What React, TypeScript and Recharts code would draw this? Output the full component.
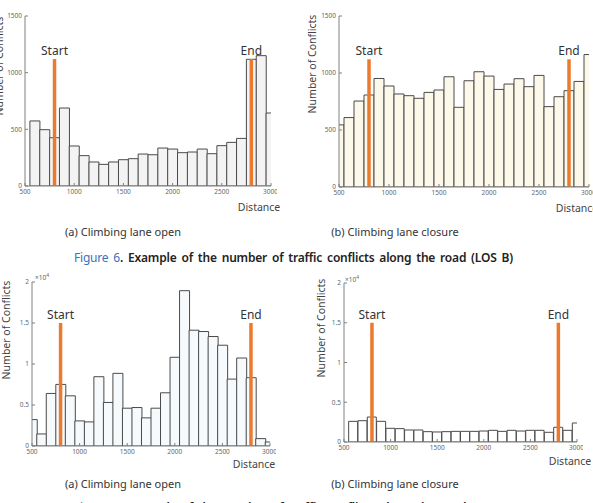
import React from 'react';
import { ComposedChart, Bar, XAxis, YAxis, ReferenceLine } from 'recharts';

// histogram bin centres along the road (m), bin width 100
const bins = [
  500, 600, 700, 800, 900, 1000, 1100, 1200, 1300, 1400, 1500, 1600, 1700,
  1800, 1900, 2000, 2100, 2200, 2300, 2400, 2500, 2600, 2700, 2800, 2900, 3000,
];

// conflicts per bin, LOS B
const openLosB = [
  0, 574, 497, 426, 688, 353, 268, 212, 191, 212, 232, 241, 282,
  276, 335, 326, 294, 300, 326, 285, 356, 385, 420, 1118, 1150, 644,
];
const closedLosB = [
  545, 609, 754, 807, 952, 886, 816, 801, 778, 830, 851, 967, 699,
  932, 1011, 973, 856, 903, 950, 880, 979, 705, 792, 845, 926, 1162,
];

// conflicts per bin, LOS D
const openLosD = [
  3220, 1470, 6410, 7510, 6120, 3060, 2940, 8450, 5310, 8860, 4610, 4690, 3430,
  4610, 6490, 10820, 18940, 14120, 13960, 13350, 12290, 8160, 10730, 8330, 900, 490,
];
const closedLosD = [
  0, 2600, 2680, 3140, 2600, 1720, 1680, 1510, 1510, 1300, 1260, 1300, 1340,
  1340, 1340, 1380, 1470, 1340, 1470, 1380, 1470, 1470, 1220, 1850, 1470, 2390,
];

const distanceTicks = [500, 1000, 1500, 2000, 2500, 3000];
const countTicksB = [0, 500, 1000, 1500];
const countTicksD = [0, 5000, 10000, 15000, 20000];

// climbing lane start / end and the height of the marker bars
const laneStart = 800;
const laneEnd = 2800;
const markerB = 1120;
const markerD = 15000;

const Y_W = 30;
const TOP_M = 14;
const X_H = 20;
const RIGHT_M = 6;
const AXIS = '#808080';
const ORANGE = '#ec7a2e';
const FONT = '"Noto Sans", sans-serif';

type PanelProps = {
  values: number[];
  yTicks: number[];
  yMax: number;
  marker: number;
  fill: string;
  left: number;
  top: number;
  width: number;
  height: number;
  fmt?: (v: number) => string;
};

const noTick = () => <g />;

const Panel = ({ values, yTicks, yMax, marker, fill, left, top, width, height, fmt }: PanelProps) => {
  const data = bins.map((d, i) => ({ d, n: values[i] }));
  const tickStyle = { fontSize: 6.5, fill: '#666', fontFamily: FONT };
  const labelStyle = { fontSize: 12, fill: '#333', fontFamily: FONT };
  return (
    <div style={{ position: 'absolute', left: left - Y_W, top: top - TOP_M }}>
      <ComposedChart
        width={Y_W + width + RIGHT_M}
        height={TOP_M + height + X_H}
        data={data}
        margin={{ top: TOP_M, right: RIGHT_M, bottom: 0, left: 0 }}
        barCategoryGap={0}
      >
        <XAxis
          dataKey="d"
          type="number"
          domain={[500, 3000]}
          ticks={distanceTicks}
          allowDataOverflow
          height={X_H}
          tickSize={-3}
          tickMargin={6}
          stroke={AXIS}
          tick={tickStyle}
        />
        <XAxis
          xAxisId="top"
          orientation="top"
          dataKey="d"
          type="number"
          domain={[500, 3000]}
          ticks={distanceTicks}
          allowDataOverflow
          height={0}
          tickSize={-3}
          stroke={AXIS}
          tick={noTick}
        />
        <YAxis
          type="number"
          domain={[0, yMax]}
          ticks={yTicks}
          allowDataOverflow
          width={Y_W}
          tickSize={-3}
          tickMargin={6}
          stroke={AXIS}
          tick={tickStyle}
          tickFormatter={fmt}
        />
        <YAxis
          yAxisId="right"
          orientation="right"
          type="number"
          domain={[0, yMax]}
          ticks={yTicks}
          allowDataOverflow
          width={0}
          tickSize={-3}
          stroke={AXIS}
          tick={noTick}
        />
        <Bar dataKey="n" fill={fill} stroke="#4a4a4a" strokeWidth={1} isAnimationActive={false} />
        <ReferenceLine
          segment={[{ x: laneStart, y: 0 }, { x: laneStart, y: marker }]}
          stroke={ORANGE}
          strokeWidth={3.5}
          label={{ value: 'Start', position: 'top', offset: 4, style: labelStyle }}
        />
        <ReferenceLine
          segment={[{ x: laneEnd, y: 0 }, { x: laneEnd, y: marker }]}
          stroke={ORANGE}
          strokeWidth={3.5}
          label={{ value: 'End', position: 'top', offset: 4, style: labelStyle }}
        />
      </ComposedChart>
    </div>
  );
};

const Txt = ({ x, y, size, children, rotate, color = '#444', align = 'center', weight = 400 }: any) => (
  <div
    style={{
      position: 'absolute',
      left: x,
      top: y,
      fontSize: size,
      color,
      fontWeight: weight,
      lineHeight: 1,
      whiteSpace: 'nowrap',
      transform: `translate(${align === 'center' ? '-50%' : '0'}, -50%)${rotate ? ' rotate(-90deg)' : ''}`,
      transformOrigin: align === 'center' ? 'center' : 'left center',
    }}
  >
    {children}
  </div>
);

const sci = (v: number) => String(v / 10000);

const Caption = ({ y, num, los }: { y: number; num: number; los: string }) => (
  <div
    style={{
      position: 'absolute',
      left: 74,
      top: y,
      transform: 'translateY(-50%)',
      fontSize: 12,
      fontWeight: 600,
      color: '#222',
      whiteSpace: 'nowrap',
      lineHeight: 1,
      letterSpacing: -0.2,
      wordSpacing: 2,
    }}
  >
    <span style={{ color: '#3b72b8', fontWeight: 400 }}>Figure {num}</span>. Example of the number of traffic conflicts along the road (LOS {los})
  </div>
);

export default function App() {
  return (
    <div
      style={{
        position: 'absolute',
        left: 0,
        top: 0,
        width: 593,
        height: 503,
        overflow: 'hidden',
        background: '#fff',
        fontFamily: FONT,
      }}
    >
      <Panel values={openLosB} yTicks={countTicksB} yMax={1500} marker={markerB} fill="#f3f3f3" left={25} top={16} width={246} height={170} />
      <Panel values={closedLosB} yTicks={countTicksB} yMax={1500} marker={markerB} fill="#fcf9ea" left={339} top={16} width={250} height={171} />
      <Panel values={openLosD} yTicks={countTicksD} yMax={20000} marker={markerD} fill="#f6fafc" left={32} top={282} width={238} height={164} fmt={sci} />
      <Panel values={closedLosD} yTicks={countTicksD} yMax={20000} marker={markerD} fill="#ffffff" left={344} top={283} width={233} height={159} fmt={sci} />

      <Txt x={-0.7} y={66} size={10.5} rotate>Number of Conflicts</Txt>
      <Txt x={312} y={64} size={10.5} rotate>Number of Conflicts</Txt>
      <Txt x={6} y={330} size={10.5} rotate>Number of Conflicts</Txt>
      <Txt x={321} y={328} size={10.5} rotate>Number of Conflicts</Txt>

      <Txt x={259} y={207} size={10.5}>Distance</Txt>
      <Txt x={577} y={208} size={10.5}>Distance</Txt>
      <Txt x={254} y={464} size={10.5}>Distance</Txt>
      <Txt x={570} y={461} size={10.5}>Distance</Txt>

      <Txt x={35} y={277} size={6.5} color="#666" align="left">×10<sup style={{ fontSize: 5 }}>4</sup></Txt>
      <Txt x={345} y={279} size={6.5} color="#666" align="left">×10<sup style={{ fontSize: 5 }}>4</sup></Txt>

      <Txt x={123} y={231} size={11} color="#333">(a) Climbing lane open</Txt>
      <Txt x={395} y={231} size={11} color="#333">(b) Climbing lane closure</Txt>
      <Caption y={258} num={6} los="B" />

      <Txt x={123} y={483} size={11} color="#333">(a) Climbing lane open</Txt>
      <Txt x={395} y={483} size={11} color="#333">(b) Climbing lane closure</Txt>
      <Caption y={508} num={7} los="D" />
    </div>
  );
}
